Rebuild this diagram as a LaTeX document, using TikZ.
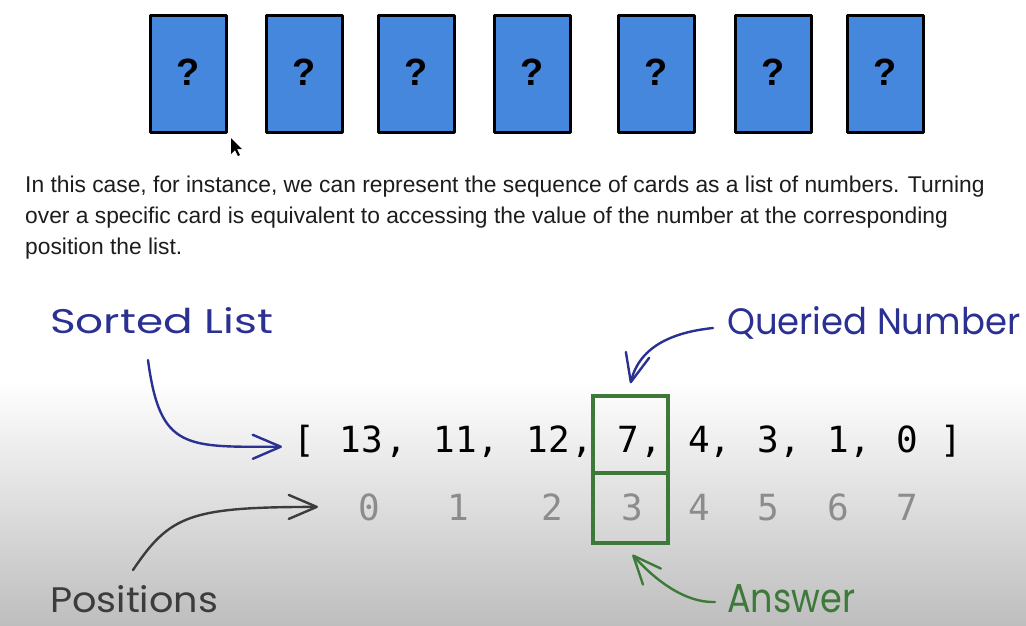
\documentclass[tikz,border=0pt]{standalone}
\usepackage{fontspec}
\setmainfont{Liberation Sans}
\newfontfamily\monofont{DejaVu Sans Mono}
\newfontfamily\handfont{Poppins}
\usetikzlibrary{arrows.meta}
\definecolor{cardblue}{HTML}{4587DC}
\definecolor{inkblue}{HTML}{2B3192}
\definecolor{inkgreen}{HTML}{3D7A3A}
\definecolor{inkgray}{HTML}{3C3C3C}
\definecolor{posgray}{HTML}{8C8C8C}
\definecolor{bgbottom}{HTML}{BEBEBE}
\definecolor{textblack}{HTML}{1D1D1D}
\begin{document}
\begin{tikzpicture}[x=1pt,y=-1pt,
  card/.style={draw=black, line width=3pt, line join=round, fill=cardblue,
    minimum width=76pt, minimum height=117pt, inner sep=0pt,
    font=\bfseries\fontsize{38}{38}\selectfont},
  para/.style={anchor=base west, inner sep=0pt, text=textblack,
    font=\fontsize{22.8}{26}\selectfont},
  listtxt/.style={anchor=base, inner sep=0pt, text=black,
    font=\monofont\fontsize{36}{36}\selectfont},
  postxt/.style={anchor=base, inner sep=0pt, text=posgray,
    font=\monofont\fontsize{36}{36}\selectfont},
  gbox/.style={draw=inkgreen, line width=3.5pt, inner sep=0pt, minimum width=75pt},
  hand/.style={anchor=base west, inner sep=0pt, font=\handfont\fontsize{36}{36}\selectfont},
  inkarrow/.style={line width=2.4pt, line cap=round,
    -{Straight Barb[length=28pt,width=24pt,round]}}]
\useasboundingbox (0,0) rectangle (1026,625);
\fill[white] (0,0) rectangle (1026,625);
\shade[top color=white, bottom color=bgbottom] (0,380) rectangle (1026,625);

% cards
\foreach \x [count=\i] in {150,266,378,494,618,735,847}
  \node[card] (card\i) at ({\x+38},73.5) {\raisebox{3pt}{?}};

% cursor
\fill[black] (231,138) -- (231,154) -- (235,150) -- (238,156) -- (240,155) -- (237,149) -- (242,149) -- cycle;

% paragraph
\node[para] (line1) at (25,192) {In this case, for instance, we can represent the sequence of cards as a list of numbers. Turning};
\node[para] (line2) at (25,223) {over a specific card is equivalent to accessing the value of the number at the corresponding};
\node[para] (line3) at (25,254) {position the list.};

% list
\node[listtxt] (lb) at (304,452) {[};
\foreach \x/\t [count=\i] in {361.5/13, 455/11, 548/12, 628/7, 699/4, 768/3, 838/1, 907/0}
  \node[listtxt] (n\i) at (\x,452) {\t};
\foreach \x [count=\i] in {396,488,582,651,720,790,860}
  \node[listtxt] (c\i) at (\x,452) {,};
\node[listtxt] (rb) at (951,452) {]};

% positions
\foreach \x/\t in {369/0, 458/1, 552/2, 632/3, 699/4, 768/5, 838/6, 907/7}
  \node[postxt] (p\t) at (\x,520) {\t};

% green boxes
\node[gbox, minimum height=77pt] (qbox) at (630.5,434.5) {};
\node[gbox, minimum height=70pt] (abox) at (630.5,508) {};

% labels
\node[hand, text=inkblue] (sorted) at (50,333) {\resizebox{223pt}{26pt}{Sorted List}};
\node[hand, text=inkblue] (queried) at (727,334) {\resizebox{293pt}{28pt}{Queried Number}};
\node[hand, text=inkgray] (positions) at (50,612) {\resizebox{168pt}{27pt}{Positions}};
\node[hand, text=inkgreen] (answer) at (727,612) {\resizebox{128pt}{28pt}{Answer}};

% arrows
\coordinate (sStart) at (148,360);
\coordinate (qStart) at (713,328);
\coordinate (pStart) at (133,570);
\coordinate (aStart) at (715,602);
\draw[inkarrow, draw=inkblue] (sStart) .. controls (160,450) and (185,447) .. ([xshift=-11pt,yshift=-6pt]lb.west);
\draw[inkarrow, draw=inkblue] (qStart) .. controls (675,332) and (640,345) .. ([yshift=11pt]qbox.north);
\draw[inkarrow, draw=inkgray] (pStart) .. controls (170,515) and (190,507) .. ([xshift=-40pt]p0.west);
\draw[inkarrow, draw=inkgreen] (aStart) .. controls (685,603) and (655,580) .. ([xshift=2pt,yshift=-10pt]abox.south);
\end{tikzpicture}
\end{document}
